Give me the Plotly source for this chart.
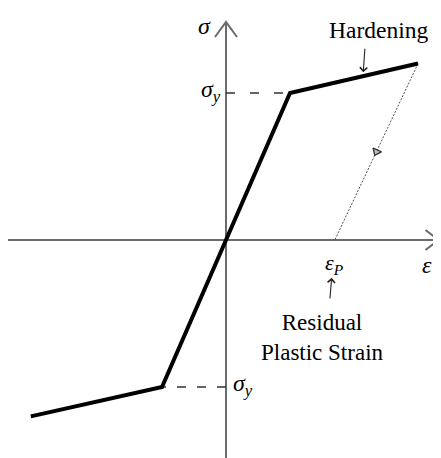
import numpy as np
import plotly.graph_objects as go

# ---- data (normalised units: strain / yield strain, stress / yield stress) ----
strain = [-3.05, -1.0, 0.0, 1.0, 3.0]
stress = [-1.2, -1.0, 0.0, 1.0, 1.2]
unload_strain = [3.0, 1.7]
unload_stress = [1.2, 0.0]
yield_strain = 1.0
yield_stress = 1.0
plastic_strain = 1.7

# axis extents (decoration)
x_axis_min, x_axis_max = -3.41, 3.32
y_axis_min, y_axis_max = -1.50, 1.483
x_range = [-3.406, 3.359]
y_range = [-1.483, 1.578]

FONT = "Liberation Serif, Times New Roman, serif"
AXIS_COLOR = "#6a6a6a"

fig = go.Figure()

# yield dashed guide lines
fig.add_trace(go.Scatter(x=[0, yield_strain], y=[yield_stress, yield_stress], mode="lines",
                         line=dict(color="#333333", width=1.5, dash="9px,15px"),
                         hoverinfo="skip", showlegend=False))
fig.add_trace(go.Scatter(x=[0, -yield_strain], y=[-yield_stress, -yield_stress], mode="lines",
                         line=dict(color="#333333", width=1.5, dash="9px,11px"),
                         hoverinfo="skip", showlegend=False))

# unloading dotted line
fig.add_trace(go.Scatter(x=unload_strain, y=unload_stress, mode="lines",
                         line=dict(color="#505050", width=1, dash="2px,1.5px"),
                         hoverinfo="skip", showlegend=False))
# direction marker in the middle of the unloading line
mx = float(np.mean(unload_strain))
my = float(np.mean(unload_stress))
fig.add_trace(go.Scatter(x=[mx], y=[my], mode="markers",
                         marker=dict(symbol="triangle-down", size=8, angle=25,
                                     color="#bbbbbb", line=dict(color="#333", width=1.3)),
                         hoverinfo="skip", showlegend=False))

# main bilinear curve
fig.add_trace(go.Scatter(x=strain, y=stress, mode="lines",
                         line=dict(color="black", width=4),
                         hoverinfo="skip", showlegend=False))

shapes = [
    dict(type="line", x0=x_axis_min, x1=x_axis_max, y0=0, y1=0, xref="x", yref="y",
         line=dict(color=AXIS_COLOR, width=2), layer="below"),
    dict(type="line", x0=0, x1=0, y0=y_axis_min, y1=y_axis_max, xref="x", yref="y",
         line=dict(color=AXIS_COLOR, width=2), layer="below"),
    dict(type="path", xref="x", yref="y", xsizemode="pixel", ysizemode="pixel",
         xanchor=0, yanchor=y_axis_max, path="M -11,-15 L 0,0 L 11,-15",
         line=dict(color=AXIS_COLOR, width=2)),
    dict(type="path", xref="x", yref="y", xsizemode="pixel", ysizemode="pixel",
         xanchor=x_axis_max, yanchor=0, path="M -13,10 L 0,0 L -13,-10",
         line=dict(color=AXIS_COLOR, width=2)),
]

hard_x = 2.14
hard_y = float(np.interp(hard_x, strain, stress))

annotations = [
    dict(x=0, y=y_axis_max, xref="x", yref="y", text="<i>σ</i>", showarrow=False,
         xanchor="right", yanchor="middle", xshift=-14, yshift=-4, borderpad=0,
         font=dict(family=FONT, size=24, color="black")),
    dict(x=x_axis_max, y=0, xref="x", yref="y", text="<i>ε</i>", showarrow=False,
         xanchor="center", yanchor="top", xshift=-12, yshift=-10,
         font=dict(family=FONT, size=24, color="black")),
    dict(x=0, y=yield_stress, xref="x", yref="y", text="<i>σ</i><sub><i>y</i></sub>",
         showarrow=False, xanchor="right", yanchor="middle", xshift=-3, yshift=2,
         font=dict(family=FONT, size=24, color="black")),
    dict(x=0, y=-yield_stress, xref="x", yref="y", text="<i>σ</i><sub><i>y</i></sub>",
         showarrow=False, xanchor="left", yanchor="middle", xshift=5, yshift=2,
         font=dict(family=FONT, size=24, color="black")),
    dict(x=plastic_strain, y=0, xref="x", yref="y", text="<i>ε</i><sub><i>P</i></sub>",
         showarrow=False, xanchor="center", yanchor="top", yshift=-8,
         font=dict(family=FONT, size=22, color="black")),
    dict(x=hard_x, y=hard_y, xref="x", yref="y", text="Hardening", showarrow=False,
         xanchor="center", yanchor="middle", xshift=16, yshift=46,
         font=dict(family=FONT, size=23.5, color="black")),
    dict(x=hard_x, y=hard_y, xref="x", yref="y", text="", showarrow=True,
         ax=2, ay=-29, axref="pixel", ayref="pixel", standoff=4,
         arrowhead=4, arrowsize=1.3, arrowwidth=1.1, arrowcolor="#222"),
    dict(x=plastic_strain, y=0, xref="x", yref="y", text="", showarrow=True,
         ax=-5, ay=60, standoff=38,
         arrowhead=4, arrowsize=1.3, arrowwidth=1.1, arrowcolor="#222"),
    dict(x=plastic_strain, y=0, xref="x", yref="y",
         text="Residual<br>Plastic Strain", showarrow=False,
         xanchor="center", yanchor="top", xshift=-12, yshift=-68,
         font=dict(family=FONT, size=23, color="black")),
]

fig.update_layout(
    width=433, height=450,
    margin=dict(l=0, r=0, t=0, b=0),
    paper_bgcolor="white", plot_bgcolor="white",
    xaxis=dict(range=x_range, visible=False, fixedrange=True),
    yaxis=dict(range=y_range, visible=False, fixedrange=True),
    shapes=shapes, annotations=annotations,
)

fig.write_html("out.html")
